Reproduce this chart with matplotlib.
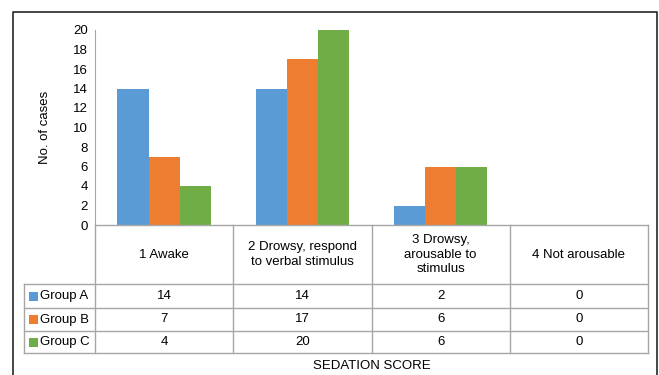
import matplotlib
matplotlib.use("Agg")
import matplotlib.pyplot as plt
from matplotlib.lines import Line2D
from matplotlib.patches import Rectangle

plt.rcParams['font.family'] = ['Liberation Sans', 'DejaVu Sans']

categories = ["1 Awake", "2 Drowsy, respond\nto verbal stimulus",
              "3 Drowsy,\narousable to\nstimulus", "4 Not arousable"]
groups = ["Group A", "Group B", "Group C"]
group_a = [14, 14, 2, 0]
group_b = [7, 17, 6, 0]
group_c = [4, 20, 6, 0]
colors = ["#5b9bd5", "#ed7d31", "#70ad47"]
yticks = list(range(0, 21, 2))

W, H = 659, 375
fig = plt.figure(figsize=(W / 100, H / 100), dpi=100)
fs = 9.5


def fx(x):
    return x / W


def fy(y):
    return 1 - y / H


# plot area in pixel terms
left, right, top, base = 95, 648, 30, 225
ax = fig.add_axes([fx(left), fy(base), fx(right - left), (base - top) / H])

series = [group_a, group_b, group_c]
bw = 0.225
xs = range(len(categories))
for i, (vals, col) in enumerate(zip(series, colors)):
    ax.bar([x + (i - 1) * bw for x in xs], vals, width=bw, color=col, linewidth=0)

ax.set_xlim(-0.5, len(categories) - 0.5)
ax.set_ylim(0, 20)
ax.set_yticks(yticks)
ax.tick_params(axis='y', length=0, labelsize=fs, pad=5)
ax.set_xticks([])
for s in ["top", "right", "bottom"]:
    ax.spines[s].set_visible(False)
ax.spines["left"].set_color("#a6a6a6")
ax.set_ylabel("No. of cases", fontsize=fs)
ax.yaxis.set_label_coords((51 - left) / (right - left), 0.5)

# outer chart border
fig.add_artist(Line2D([fx(13), fx(13), fx(657), fx(657)],
                      [fy(375), fy(12), fy(12), fy(375)],
                      transform=fig.transFigure, color="#262626", lw=1.2))

# data table under the plot
grid = "#a6a6a6"
col_x = [left + (right - left) * k / len(categories) for k in range(len(categories) + 1)]
row_y = [base, 284, 308, 331, 353]
leg_left = 24

def hline(x0, x1, y):
    fig.add_artist(Line2D([fx(x0), fx(x1)], [fy(y), fy(y)],
                          transform=fig.transFigure, color=grid, lw=1))

def vline(x, y0, y1):
    fig.add_artist(Line2D([fx(x), fx(x)], [fy(y0), fy(y1)],
                          transform=fig.transFigure, color=grid, lw=1))

hline(left, right, base)
for y in row_y[1:]:
    hline(leg_left, right, y)
for x in col_x:
    vline(x, base, row_y[-1])
vline(leg_left, row_y[1], row_y[-1])

for k, cat in enumerate(categories):
    cx = (col_x[k] + col_x[k + 1]) / 2
    fig.text(fx(cx), fy((row_y[0] + row_y[1]) / 2), cat, ha="center", va="center",
             fontsize=fs, linespacing=1.3)

for r, (name, vals, col) in enumerate(zip(groups, series, colors)):
    cy = (row_y[r + 1] + row_y[r + 2]) / 2
    fig.add_artist(Rectangle((fx(29), fy(cy + 4.5)), fx(9), 9 / H,
                             transform=fig.transFigure, color=col, lw=0))
    fig.text(fx(40), fy(cy), name, ha="left", va="center", fontsize=fs)
    for k, v in enumerate(vals):
        cx = (col_x[k] + col_x[k + 1]) / 2
        fig.text(fx(cx), fy(cy), str(v), ha="center", va="center", fontsize=fs)

fig.text(fx((left + right) / 2), fy(366), "SEDATION SCORE", ha="center", va="center",
         fontsize=fs)

fig.savefig("out.png", dpi=100)
